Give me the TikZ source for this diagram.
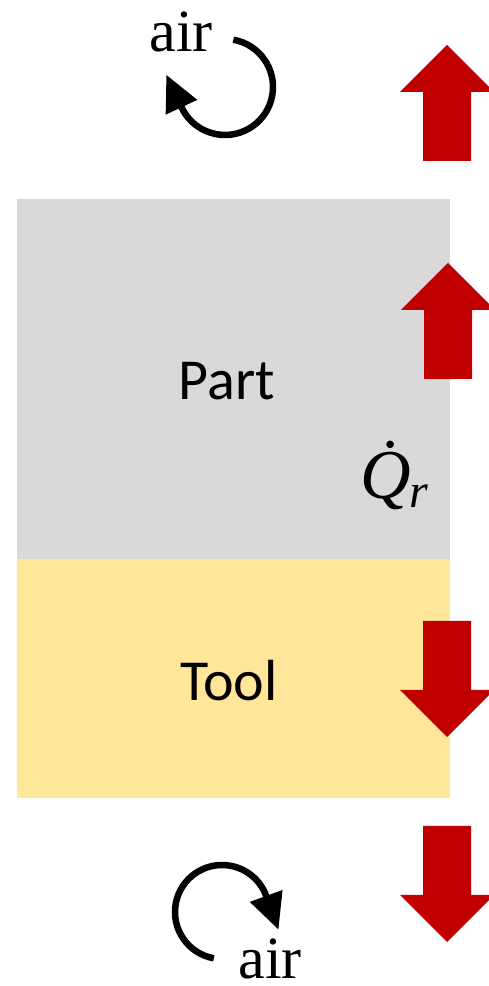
\documentclass[tikz,border=0pt]{standalone}
\usepackage{fontspec}
\setsansfont{Carlito}
\newfontfamily\timesfont{Liberation Serif}
\usetikzlibrary{arrows.meta}

\definecolor{partgray}{HTML}{D9D9D9}
\definecolor{toolyellow}{HTML}{FFE699}
\definecolor{heatred}{HTML}{C00000}

\begin{document}
\begin{tikzpicture}[x=1pt, y=1pt,
		block/.style={font=\fontsize{58}{60}\selectfont\sffamily, anchor=base, inner sep=0},
		air/.style={font=\fontsize{60}{62}\selectfont\timesfont, anchor=base, inner sep=0},
		eddy/.style={line width=6.5pt, -{Triangle[length=36pt, width=33pt]}}]
			\useasboundingbox (0, 0) rectangle (488, 986);
			% part on top of the tool
			\fill[partgray] (17, 427) rectangle (450, 787);
			\fill[toolyellow] (17, 188) rectangle (450, 427);
			\node[block] (part) at (227, 586) {Part};
			\node[block] (tool) at (229, 285) {Tool};
			% heat flux arrows: tip at (\x, \y), \d = 1 up, -1 down
			\foreach \x/\y/\d in {447/941/1, 448/723/1, 447/249/-1, 447/44/-1}
				\fill[heatred] (\x, \y) -- ++(-47, -47*\d) -- ++(23, 0) -- ++(0, -69*\d)
					-- ++(48, 0) -- ++(0, 69*\d) -- ++(23, 0) -- cycle;
			\node[anchor=base west, inner sep=0, font=\fontsize{70}{72}\selectfont\timesfont\itshape] (heat) at (360, 487) {\.{Q}};
			\node[anchor=base west, inner sep=0, font=\fontsize{48}{50}\selectfont\timesfont\itshape] (heatsub) at (409, 478) {r};
			% air circulation above and below
			\coordinate (topeddy) at (225, 899);
			\coordinate (boteddy) at (222, 74);
			\node[air] (airtop) at (181, 934) {air};
			\node[air] (airbot) at (270, 8) {air};
			\draw[eddy] (topeddy) ++(80:48) arc[start angle=80, end angle=-155, radius=48] -- ++(115:36);
			\draw[eddy] (boteddy) ++(260:47) arc[start angle=260, end angle=20, radius=47] -- ++(-70:36);
		\end{tikzpicture}
\end{document}
